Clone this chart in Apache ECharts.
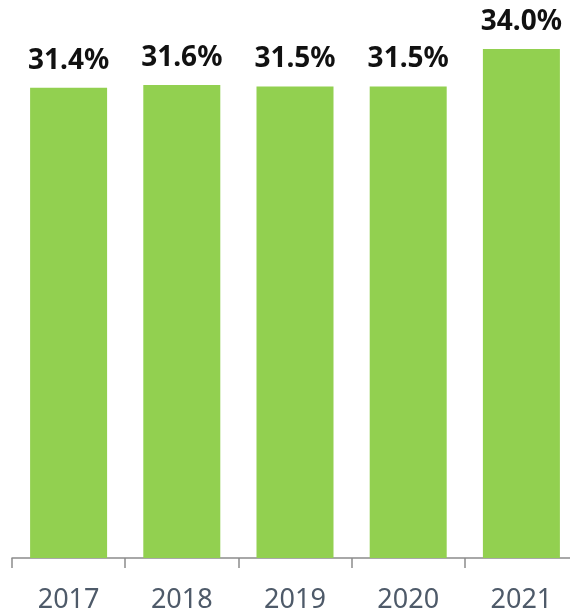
<!DOCTYPE html>
<html>
<head>
<meta charset="utf-8">
<script src="https://cdn.jsdelivr.net/npm/echarts@6/dist/echarts.min.js"></script>
<style>
html,body{margin:0;padding:0;background:#fff;overflow:hidden;}
#chart{width:570px;height:616px;}
</style>
</head>
<body>
<div id="chart"></div>
<script>
const categories = ['2017', '2018', '2019', '2020', '2021'];
const shareValues = [31.4, 31.6, 31.5, 31.5, 34.0];

const chart = echarts.init(document.getElementById('chart'), null, {renderer: 'canvas'});
chart.setOption({
  animation: false,
  grid: {left: 12, width: 566, top: 19, bottom: 58, outerBoundsMode: 'none'},
  xAxis: {
    type: 'category',
    data: categories,
    axisLine: {show: true, lineStyle: {color: '#8c8c8c', width: 1.5}},
    axisTick: {show: true, length: 10, lineStyle: {color: '#8c8c8c', width: 1.5}},
    axisLabel: {color: '#4E5A69', fontSize: 27, fontFamily: 'Noto Sans', margin: 29}
  },
  yAxis: {
    type: 'value', min: 0, max: 36,
    show: false,
    splitLine: {show: false}
  },
  series: [{
    type: 'bar',
    data: shareValues,
    barWidth: 77,
    itemStyle: {color: '#92D050'},
    label: {
      show: true, position: 'top', distance: 13,
      color: '#111', fontWeight: 'bold', fontSize: 28, fontFamily: 'Noto Sans',
      formatter: p => p.value.toFixed(1) + '%'
    }
  }]
});
</script>
</body>
</html>
